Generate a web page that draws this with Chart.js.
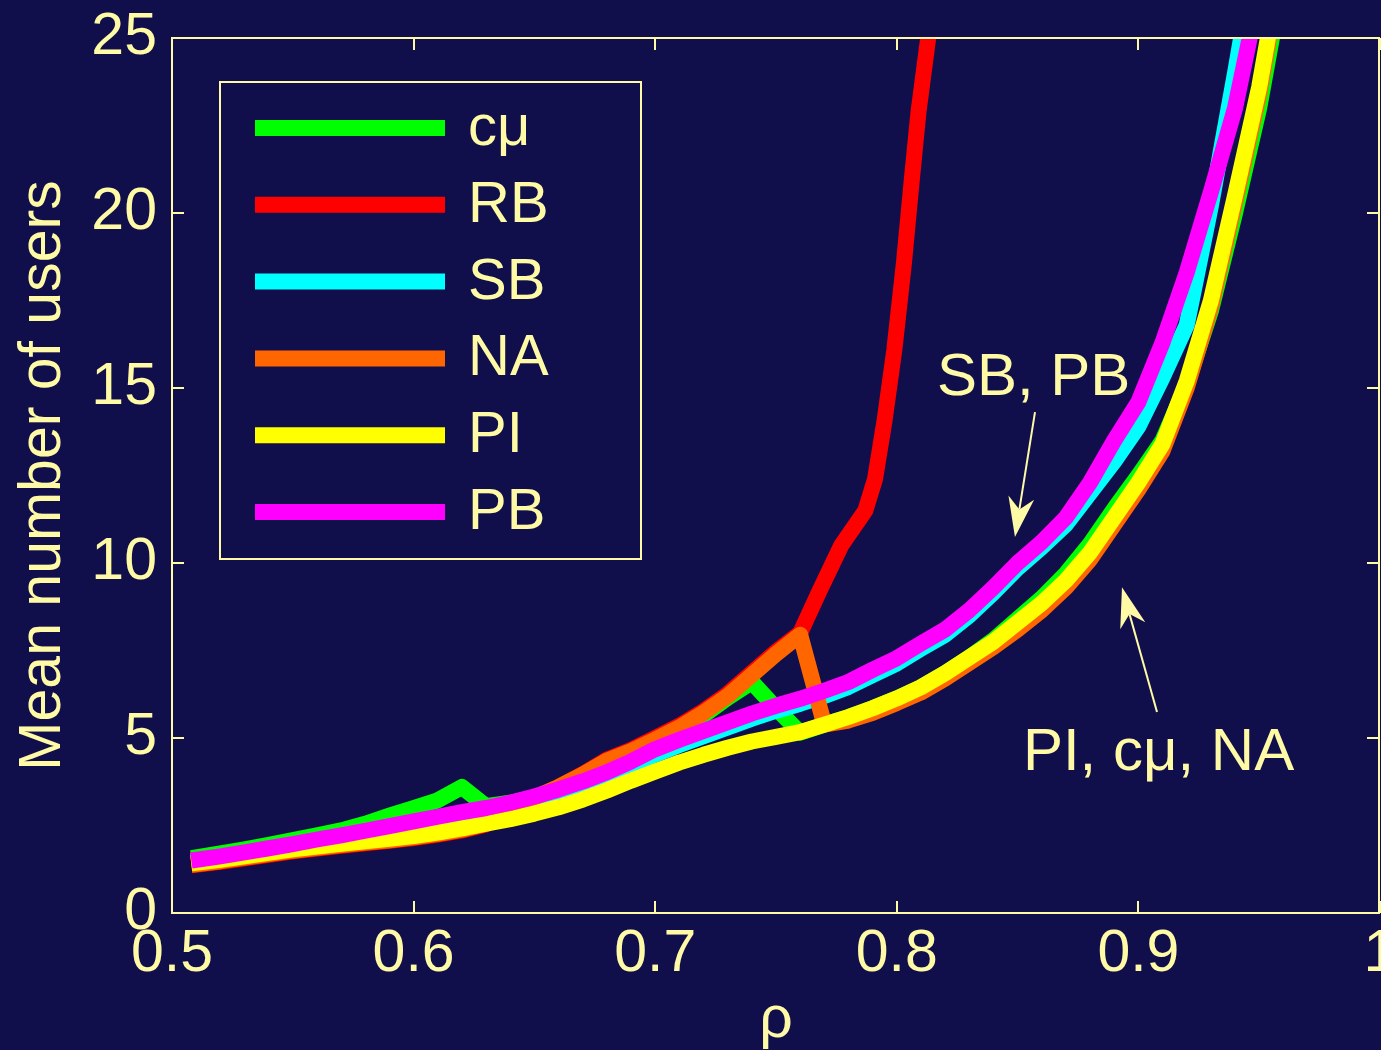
<!DOCTYPE html>
<html><head><meta charset="utf-8">
<script src="https://cdn.jsdelivr.net/npm/chart.js@4.4.1/dist/chart.umd.min.js"></script>
<style>html,body{margin:0;padding:0;background:#100f4b;overflow:hidden}canvas{display:block}</style>
</head><body>
<canvas id="c" width="1381" height="1050"></canvas>
<script>
// ---------- data ----------
const rho = [0.508,0.52,0.53,0.54,0.55,0.56,0.57,0.58,0.59,0.60,
             0.61,0.62,0.63,0.64,0.65,0.66,0.67,0.68,0.69,0.70,
             0.71,0.72,0.73,0.74,0.75,0.76,0.77,0.78,0.79,0.80,
             0.81,0.82,0.83,0.84,0.85,0.86,0.87,0.88,0.89,0.90,
             0.91,0.92,0.93,0.94,0.95,0.96];
const nCmu = [1.57,1.7,1.82,1.95,2.08,2.22,2.36,2.55,2.78,3.0,
              3.22,3.6,3.05,3.15,3.3,3.5,3.73,4.0,4.3,4.75,
              5.2,5.65,6.15,6.6,5.85,5.15,5.38,5.6,5.85,6.13,
              6.45,6.85,7.3,7.8,8.4,9.0,9.7,10.55,11.55,12.5,
              13.5,15.1,17.2,20.0,23.0,26.8];
const nSB  = [1.48,1.6,1.7,1.82,1.94,2.06,2.18,2.31,2.44,2.57,
              2.7,2.83,2.95,3.08,3.25,3.44,3.67,3.92,4.22,4.53,
              4.8,5.05,5.3,5.55,5.78,5.98,6.2,6.46,6.8,7.13,
              7.55,7.95,8.5,9.15,9.85,10.45,11.1,12.0,12.9,13.9,
              15.3,16.8,20.2,24.0,28.0,32.0];
const nNA  = [1.38,1.48,1.58,1.68,1.78,1.86,1.94,2.01,2.08,2.16,
              2.26,2.38,2.55,2.9,3.3,3.6,3.95,4.35,4.62,4.95,
              5.3,5.72,6.2,6.8,7.4,7.95,5.38,5.5,5.72,6.0,
              6.3,6.7,7.15,7.6,8.1,8.65,9.3,10.1,11.1,12.1,
              13.2,15.0,17.3,20.3,23.4,27.3];
const nPI  = [1.42,1.52,1.62,1.72,1.82,1.9,1.98,2.05,2.12,2.2,
              2.3,2.42,2.55,2.68,2.84,3.02,3.24,3.5,3.78,4.04,
              4.3,4.52,4.72,4.9,5.03,5.17,5.38,5.6,5.85,6.13,
              6.45,6.85,7.3,7.75,8.3,8.85,9.5,10.3,11.3,12.3,
              13.4,15.2,17.5,20.5,23.6,27.5];
const nPB  = [1.5,1.62,1.73,1.85,1.97,2.1,2.22,2.35,2.48,2.62,
              2.75,2.88,3.0,3.15,3.33,3.53,3.76,4.02,4.33,4.68,
              4.95,5.2,5.45,5.7,5.92,6.12,6.35,6.6,6.95,7.28,
              7.7,8.1,8.65,9.3,10.0,10.6,11.3,12.3,13.5,14.6,
              16.3,18.3,20.6,23.0,26.3,30.0];
const rhoRB = [0.508,0.52,0.53,0.54,0.55,0.56,0.57,0.58,0.59,0.60,
               0.61,0.62,0.63,0.64,0.65,0.66,0.67,0.68,0.69,0.70,
               0.71,0.72,0.73,0.74,0.75,0.76,
               0.768,0.777,0.787,0.791,0.795,0.799,0.803,0.806,0.809,0.813,0.817];
const nRB  = [1.36,1.46,1.56,1.66,1.76,1.84,1.92,1.99,2.06,2.14,
              2.24,2.36,2.53,2.88,3.28,3.6,3.97,4.38,4.66,5.0,
              5.35,5.77,6.26,6.86,7.46,8.0,
              9.2,10.5,11.5,12.4,14.1,16.1,18.6,20.8,22.9,25.0,27.0];

const seriesNames  = ['cμ','RB','SB','NA','PI','PB'];
const seriesColors = ['#00ff00','#ff0000','#00ffff','#ff6600','#ffff00','#ff00ff'];

const xTicks = [0.5,0.6,0.7,0.8,0.9,1];
const xTickLabels = ['0.5','0.6','0.7','0.8','0.9','1'];
const yTicks = [0,5,10,15,20,25];
const yTickLabels = ['0','5','10','15','20','25'];

const xTitle = 'ρ';
const yTitle = 'Mean number of users';

// ---------- styling ----------
const FG = '#fffaa5', BG = '#100f4b';
const FONT = '"Liberation Sans", Arial, Helvetica, sans-serif';
const FS = 59;

function pts(xs, ys){ return xs.map((x,i)=>({x:x, y:ys[i]})); }

const seriesData = [pts(rho,nCmu), pts(rhoRB,nRB), pts(rho,nSB), pts(rho,nNA), pts(rho,nPI), pts(rho,nPB)];

const datasets = seriesNames.map((name,i)=>({
  label: name,
  data: seriesData[i],
  borderColor: seriesColors[i],
  backgroundColor: seriesColors[i],
  borderWidth: 16,
  pointRadius: 0,
  pointHoverRadius: 0,
  tension: 0,
  fill: false,
  clip: 0,
  order: seriesNames.length - 1 - i,
  borderJoinStyle: 'round',
  borderCapStyle: 'butt'
}));

const annotations = [
  {text:'SB, PB', x:0.8166, y:14.8, from:[0.8572,14.31], to:[0.8489,10.74]},
  {text:'PI, cμ, NA', x:0.8522, y:4.09, from:[0.9077,5.74], to:[0.8932,9.31]}
];

function drawArrow(ctx, x1, y1, x2, y2){
  const a = Math.atan2(y2-y1, x2-x1);
  const L = 40, W = 13, N = 28;
  const c = Math.cos(a), s = Math.sin(a);
  ctx.beginPath(); ctx.moveTo(x1,y1); ctx.lineTo(x2 - c*N, y2 - s*N); ctx.stroke();
  const bx = x2 - c*L, by = y2 - s*L, px = -s, py = c;
  ctx.beginPath();
  ctx.moveTo(x2,y2);
  ctx.lineTo(bx + px*W, by + py*W);
  ctx.lineTo(x2 - c*N, y2 - s*N);
  ctx.lineTo(bx - px*W, by - py*W);
  ctx.closePath(); ctx.fill();
}

const bgPlugin = {
  id:'bg',
  beforeDraw(chart){
    const ctx = chart.ctx; ctx.save(); ctx.fillStyle = BG;
    ctx.fillRect(0,0,chart.width,chart.height); ctx.restore();
  }
};

const framePlugin = {
  id:'frame',
  afterDatasetsDraw(chart){
    const ctx = chart.ctx, ca = chart.chartArea;
    const xs = chart.scales.x, ys = chart.scales.y;
    ctx.save();
    ctx.strokeStyle = FG; ctx.lineWidth = 2; ctx.lineCap = 'butt';
    ctx.strokeRect(ca.left, ca.top, ca.right - ca.left - 1, ca.bottom - ca.top);
    const TL = 12;
    ctx.beginPath();
    xTicks.forEach(v=>{
      const px = Math.round(xs.getPixelForValue(v));
      ctx.moveTo(px, ca.bottom); ctx.lineTo(px, ca.bottom - TL);
      ctx.moveTo(px, ca.top); ctx.lineTo(px, ca.top + TL);
    });
    yTicks.forEach(v=>{
      const py = Math.round(ys.getPixelForValue(v));
      ctx.moveTo(ca.left, py); ctx.lineTo(ca.left + TL, py);
      ctx.moveTo(ca.right - 1, py); ctx.lineTo(ca.right - 1 - TL, py);
    });
    ctx.stroke();

    // legend
    const lx = ca.left + 48, ly = ca.top + 44, lw = 421, lh = 477;
    ctx.fillStyle = BG; ctx.fillRect(lx, ly, lw, lh);
    ctx.strokeStyle = FG; ctx.lineWidth = 2; ctx.strokeRect(lx, ly, lw, lh);
    chart.data.datasets.forEach((ds,i)=>{
      const y = ly + 46 + i*76.8;
      ctx.strokeStyle = ds.borderColor; ctx.lineWidth = 16;
      ctx.beginPath(); ctx.moveTo(lx + 35, y); ctx.lineTo(lx + 225, y); ctx.stroke();
      ctx.fillStyle = FG; ctx.font = '58px ' + FONT;
      ctx.textAlign = 'left'; ctx.textBaseline = 'middle';
      ctx.fillText(ds.label, lx + 248, y + 1);
    });

    // annotations
    ctx.fillStyle = FG; ctx.strokeStyle = FG; ctx.lineWidth = 2;
    ctx.font = '60px ' + FONT; ctx.textAlign = 'left'; ctx.textBaseline = 'alphabetic';
    annotations.forEach(a=>{
      ctx.fillText(a.text, xs.getPixelForValue(a.x), ys.getPixelForValue(a.y));
      drawArrow(ctx, xs.getPixelForValue(a.from[0]), ys.getPixelForValue(a.from[1]),
                     xs.getPixelForValue(a.to[0]), ys.getPixelForValue(a.to[1]));
    });
    ctx.restore();
  }
};

new Chart(document.getElementById('c'), {
  type: 'line',
  data: { datasets: datasets },
  plugins: [bgPlugin, framePlugin],
  options: {
    responsive: false,
    devicePixelRatio: 1,
    animation: false,
    events: [],
    layout: { padding: { top: 38, right: 1, left: 0, bottom: 0 } },
    plugins: { legend: { display: false }, tooltip: { enabled: false } },
    scales: {
      x: {
        type: 'linear', position: 'bottom', min: 0.5, max: 1,
        grid: { display: false, drawTicks: false },
        border: { display: false },
        afterBuildTicks: s => { s.ticks = xTicks.map(v=>({value:v})); },
        afterFit: s => { s.height = 137; s.paddingLeft = 0; s.paddingRight = 0; },
        ticks: {
          color: FG, padding: 12, maxRotation: 0, autoSkip: false,
          font: { family: FONT, size: FS, lineHeight: 1 },
          callback: (v, i) => xTickLabels[i]
        },
        title: { display: true, text: xTitle, color: FG,
                 font: { family: FONT, size: FS, lineHeight: 1 }, padding: { top: 0, bottom: 0 } }
      },
      y: {
        type: 'linear', position: 'left', min: 0, max: 25,
        grid: { display: false, drawTicks: false },
        border: { display: false },
        afterBuildTicks: s => { s.ticks = yTicks.map(v=>({value:v})); },
        afterFit: s => { s.width = 172; s.paddingTop = 0; s.paddingBottom = 0; },
        ticks: {
          color: FG, padding: 15, autoSkip: false,
          font: { family: FONT, size: FS, lineHeight: 1 },
          callback: (v, i) => yTickLabels[i]
        },
        title: { display: true, text: yTitle, color: FG,
                 font: { family: FONT, size: FS, lineHeight: 1 }, padding: { top: 14, bottom: 0 } }
      }
    }
  }
});
</script>
</body></html>
